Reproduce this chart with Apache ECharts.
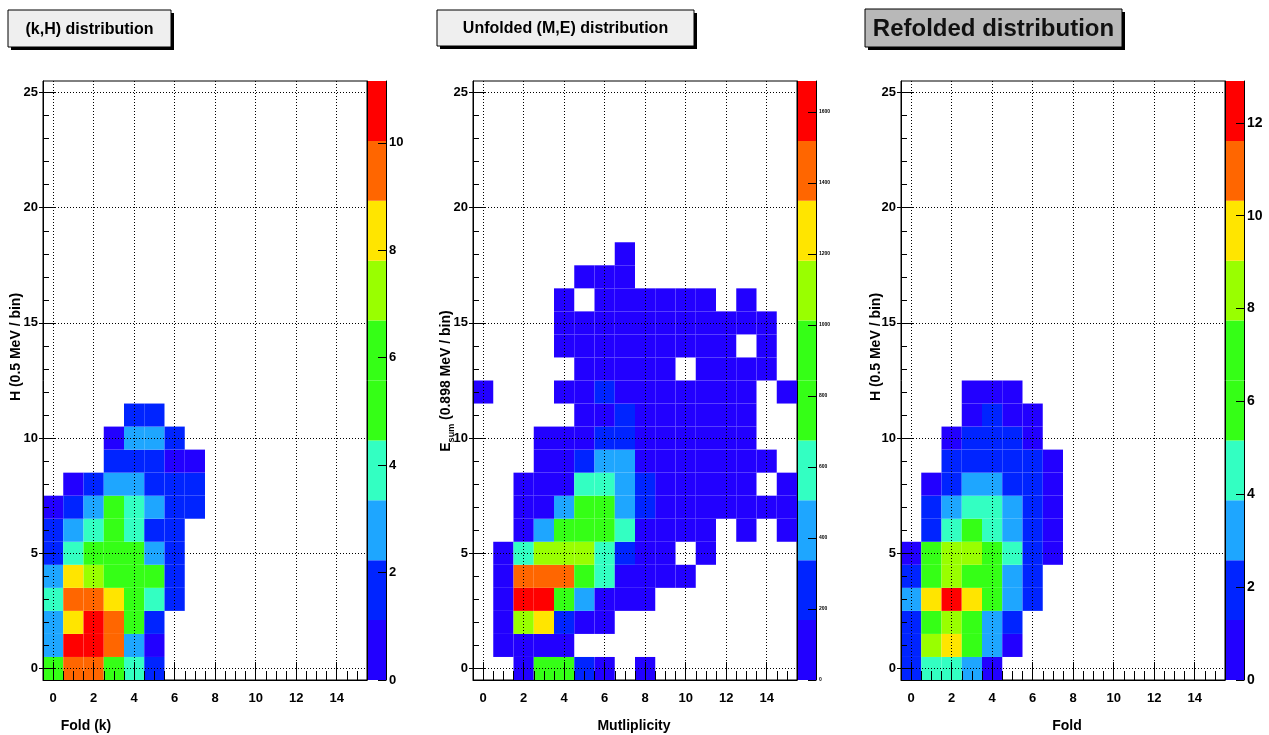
<!DOCTYPE html>
<html><head><meta charset="utf-8">
<script src="https://cdn.jsdelivr.net/npm/echarts@6/dist/echarts.min.js"></script>
<style>html,body{margin:0;padding:0;background:#fff}#c{width:1269px;height:735px}</style>
</head><body><div id="c"></div>
<script>
// ---------------- data ----------------
const xTickLabels = [0, 2, 4, 6, 8, 10, 12, 14];
const yTickLabels = [0, 5, 10, 15, 20, 25];
const xMinorTicks = [0.5,1,1.5,2.5,3,3.5,4.5,5,5.5,6.5,7,7.5,8.5,9,9.5,10.5,11,11.5,12.5,13,13.5,14.5,15];
const yMinorTicks = [1,2,3,4,6,7,8,9,11,12,13,14,16,17,18,19,21,22,23,24];

// ROOT palette bands (bottom -> top of the colour bar)
const paletteColors = ['#2200ff', '#0024ff', '#1ea6ff', '#33ffc2', '#35ff16', '#35ff16', '#99ff00', '#ffe500', '#ff6600', '#ff0000'];

// (k,H) distribution : rows = H bin 0.., columns = k 0..
const khRows = [
  [5.2, 9.3, 9.6, 5.0, 3.8, 1.6],
  [2.7, 10.4, 10.8, 9.4, 2.9, 0.9],
  [2.6, 8.3, 10.3, 9.1, 5.4, 1.5],
  [4.1, 9.7, 9.2, 8.5, 5.8, 3.7, 1.4],
  [2.9, 8.6, 7.1, 6.0, 6.3, 5.3, 1.2],
  [1.8, 4.2, 5.7, 6.1, 5.6, 2.6, 1.3],
  [1.6, 2.8, 3.9, 5.9, 3.6, 1.4, 1.2],
  [0.9, 1.9, 3.0, 5.1, 4.0, 2.5, 1.3, 1.2],
  [null, 0.8, 2.0, 3.1, 2.9, 1.4, 1.3, 1.2],
  [null, null, null, 1.5, 1.7, 1.4, 0.9, 0.8],
  [null, null, null, 0.9, 2.6, 2.4, 1.3],
  [null, null, null, null, 1.4, 1.3]
];
const khZmax = 11.15;
const khZTicks = [0, 2, 4, 6, 8, 10];

// Unfolded (M,E) distribution : rows = E bin 0.., columns = M 0..
const meRows = [
  [null, null, 90, 850, 880, 200, 110, null, 60],
  [null, 70, 120, 150, 100],
  [null, 90, 1100, 1280, 230, 130, 60],
  [null, 140, 1600, 1620, 830, 430, 150, 110, 50],
  [null, 150, 1440, 1460, 1420, 860, 600, 160, 120, 80, 40],
  [null, 160, 580, 1090, 1120, 1080, 620, 220, 140, 90, null, 50],
  [null, null, 130, 430, 820, 880, 850, 570, 150, 120, 100, 70, null, 60, null, 40],
  [null, null, 120, 150, 420, 900, 830, 410, 200, 130, 110, 90, 70, 60, 50, 40],
  [null, null, 110, 140, 160, 590, 610, 440, 190, 120, 100, 80, 70, 60, null, 40],
  [null, null, null, 130, 150, 240, 400, 390, 150, 110, 90, 80, 70, 60, 50],
  [null, null, null, 90, 120, 160, 210, 230, 150, 110, 90, 70, 60, 50],
  [null, null, null, null, null, 130, 160, 200, 140, 100, 80, 70, 60, 50],
  [40, null, null, null, 90, 120, 190, 150, 120, 100, 80, 70, 60, 50, null, 30],
  [null, null, null, null, null, 100, 110, 120, 100, 90, null, 70, 60, 50, 40],
  [null, null, null, null, 70, 90, 100, 110, 100, 80, 70, 60, 50, null, 30],
  [null, null, null, null, 60, 80, 90, 100, 90, 80, 70, 60, 50, 40, 30],
  [null, null, null, null, 50, null, 70, 80, 70, 60, 50, 40, null, 30],
  [null, null, null, null, null, 40, 50, 60],
  [null, null, null, null, null, null, null, 40]
];
const meZmax = 1687;
const meZTicks = [0, 200, 400, 600, 800, 1000, 1200, 1400, 1600];

// Refolded distribution : rows = H bin 0.., columns = fold 0..
const rfRows = [
  [1.8, 4.3, 4.6, 3.0, 1.0],
  [2.0, 8.2, 9.5, 6.2, 3.1, 1.1],
  [2.2, 7.0, 8.6, 6.6, 3.3, 1.6],
  [3.4, 9.9, 12.6, 9.6, 6.9, 3.2, 1.8],
  [2.1, 7.2, 8.3, 7.4, 6.8, 3.5, 1.9],
  [1.2, 6.6, 8.0, 7.9, 6.5, 4.4, 2.0, 1.1],
  [null, 2.4, 4.9, 5.9, 4.7, 3.4, 2.0, 1.1],
  [null, 2.0, 3.6, 4.4, 4.3, 3.2, 1.9, 1.0],
  [null, 1.1, 2.1, 3.1, 3.0, 2.2, 1.8, 1.0],
  [null, null, 1.8, 2.3, 2.4, 2.1, 1.7, 0.9],
  [null, null, 1.2, 1.9, 2.2, 1.9, 1.2],
  [null, null, null, 1.2, 1.6, 1.2, 1.0],
  [null, null, null, 0.8, 1.1, 0.9]
];
const rfZmax = 12.9;
const rfZTicks = [0, 2, 4, 6, 8, 10, 12];

// ---------------- chart ----------------
const FONT = '"Liberation Sans", Arial, Helvetica, sans-serif';

function toCells(rows) {
  const out = [];
  rows.forEach((r, j) => r.forEach((v, i) => { if (v != null) out.push([i, j, v]); }));
  return out;
}
function bands(zmax) {
  const bw = zmax / paletteColors.length;
  return paletteColors.map((c, k) => [k * bw, (k + 1) * bw, k]);
}
function cellRender(params, api) {
  const x = api.value(0), y = api.value(1);
  const p0 = api.coord([x - 0.5, y - 0.5]);
  const p1 = api.coord([x + 0.5, y + 0.5]);
  return { type: 'rect', shape: { x: p0[0], y: p1[1], width: p1[0] - p0[0], height: p0[1] - p1[1] },
           style: { fill: api.visual('color') } };
}
function barRender(params, api) {
  const p0 = api.coord([0, api.value(0)]);
  const p1 = api.coord([1, api.value(1)]);
  return { type: 'rect', shape: { x: p0[0], y: p1[1], width: p1[0] - p0[0], height: p0[1] - p1[1] },
           style: { fill: paletteColors[api.value(2)] } };
}

const panels = [
  { left: 43,  cbLeft: 367,  rows: khRows, zmax: khZmax, cbTicks: khZTicks, cbFont: 13 },
  { left: 473, cbLeft: 797,  rows: meRows, zmax: meZmax, cbTicks: meZTicks, cbFont: 5 },
  { left: 901, cbLeft: 1225, rows: rfRows, zmax: rfZmax, cbTicks: rfZTicks, cbFont: 14 }
];

const grid = [], xAxis = [], yAxis = [], series = [], visualMap = [];
const blk = { color: '#000', width: 1 };
const lbl = { color: '#000', fontSize: 13, fontWeight: 'bold', fontFamily: FONT };
const plain = v => String(v);

panels.forEach(p => {
  const g = grid.length;
  grid.push({ left: p.left, top: 81, width: 324, height: 599, show: true, borderColor: '#000', borderWidth: 1, backgroundColor: '#fff' });
  grid.push({ left: p.cbLeft, top: 81, width: 19, height: 599, show: false });

  const xi = xAxis.length;
  xAxis.push({ gridIndex: g, type: 'value', min: -0.5, max: 15.5, position: 'bottom', z: 5,
    axisLine: { show: true, onZero: false, lineStyle: blk },
    axisTick: { show: true, inside: true, length: 18, customValues: xTickLabels, lineStyle: blk },
    axisLabel: Object.assign({ show: true, customValues: xTickLabels, margin: 12, formatter: plain }, lbl),
    splitLine: { show: true, lineStyle: { color: '#000', width: 1, type: [1, 2] } } });
  xAxis.push({ gridIndex: g, type: 'value', min: -0.5, max: 15.5, position: 'bottom', z: 5,
    axisLine: { show: false, onZero: false },
    axisTick: { show: true, inside: true, length: 9, customValues: xMinorTicks, lineStyle: blk },
    axisLabel: { show: false }, splitLine: { show: false } });
  xAxis.push({ gridIndex: g + 1, type: 'value', min: 0, max: 1, show: false, axisLine: { onZero: false } });

  const yi = yAxis.length;
  yAxis.push({ gridIndex: g, type: 'value', min: -0.5, max: 25.5, position: 'left', z: 5,
    axisLine: { show: true, onZero: false, lineStyle: blk },
    axisTick: { show: true, inside: true, length: 12, customValues: yTickLabels, lineStyle: blk },
    axisLabel: Object.assign({ show: true, customValues: yTickLabels, margin: 5, formatter: plain }, lbl),
    splitLine: { show: true, lineStyle: { color: '#000', width: 1, type: [1, 2] } } });
  yAxis.push({ gridIndex: g, type: 'value', min: -0.5, max: 25.5, position: 'left', z: 5,
    axisLine: { show: false, onZero: false },
    axisTick: { show: true, inside: true, length: 6, customValues: yMinorTicks, lineStyle: blk },
    axisLabel: { show: false }, splitLine: { show: false } });
  yAxis.push({ gridIndex: g, type: 'value', min: -0.5, max: 25.5, position: 'left', z: 5,
    axisLine: { show: false, onZero: false },
    axisTick: { show: true, inside: false, length: 4, customValues: yTickLabels, lineStyle: blk },
    axisLabel: { show: false }, splitLine: { show: false } });
  yAxis.push({ gridIndex: g, type: 'value', min: -0.5, max: 25.5, position: 'right', z: 5,
    axisLine: { show: true, onZero: false, lineStyle: blk },
    axisTick: { show: false }, axisLabel: { show: false }, splitLine: { show: false } });
  yAxis.push({ gridIndex: g + 1, type: 'value', min: 0, max: p.zmax, position: 'right', z: 5,
    axisLine: { show: true, onZero: false, lineStyle: blk },
    axisTick: { show: true, inside: true, length: 8, customValues: p.cbTicks, lineStyle: blk },
    axisLabel: { show: true, customValues: p.cbTicks, margin: 3, formatter: plain, color: '#000', fontSize: p.cbFont, fontWeight: 'bold', fontFamily: FONT },
    splitLine: { show: false } });

  const si = series.length;
  series.push({ type: 'custom', xAxisIndex: xi, yAxisIndex: yi, z: 2, renderItem: cellRender,
    data: toCells(p.rows), silent: true, animation: false });
  series.push({ type: 'custom', xAxisIndex: xi + 2, yAxisIndex: yi + 4, z: 2, renderItem: barRender,
    data: bands(p.zmax), silent: true, animation: false });

  const bw = p.zmax / paletteColors.length;
  visualMap.push({ type: 'piecewise', show: false, seriesIndex: si, dimension: 2,
    pieces: paletteColors.map((c, k) => (k === paletteColors.length - 1)
      ? { gte: k * bw, lte: p.zmax * 2, color: c }
      : { gte: k * bw, lt: (k + 1) * bw, color: c }) });
});

function titleBox(x, y, w, h, fill, text, font, color) {
  return [
    { type: 'rect', shape: { x: x + 3, y: y + 3, width: w, height: h }, style: { fill: '#000' }, z: 10 },
    { type: 'rect', shape: { x: x, y: y, width: w, height: h }, style: { fill: fill, stroke: '#000', lineWidth: 1 }, z: 11 },
    { type: 'text', x: x + w / 2, y: y + h / 2 + 1, z: 12,
      style: { text: text, font: font, fill: color, align: 'center', verticalAlign: 'middle' } }
  ];
}
function txt(x, y, text, rot) {
  return { type: 'text', x: x, y: y, rotation: rot || 0, z: 12,
    style: { text: text, font: 'bold 14px ' + FONT, fill: '#000', align: 'center', verticalAlign: 'middle' } };
}

const graphic = [].concat(
  titleBox(8, 10, 163, 37, '#efefef', '(k,H) distribution', 'bold 16px ' + FONT, '#000'),
  titleBox(437, 10, 257, 36, '#efefef', 'Unfolded (M,E) distribution', 'bold 16px ' + FONT, '#000'),
  titleBox(865, 9, 257, 38, '#b8b8b8', 'Refolded distribution', 'bold 24px ' + FONT, '#111'),
  [
    txt(86, 726, 'Fold (k)'),
    txt(634, 726, 'Mutliplicity'),
    txt(1067, 726, 'Fold'),
    txt(16, 347, 'H (0.5 MeV / bin)', Math.PI / 2),
    txt(876, 347, 'H (0.5 MeV / bin)', Math.PI / 2),
    { type: 'text', x: 446, y: 381, rotation: Math.PI / 2, z: 12,
      style: { text: '{e|E}{s|sum}{e| (0.898 MeV / bin)}', align: 'center', verticalAlign: 'middle',
        rich: {
          e: { fontSize: 14, fontWeight: 'bold', fontFamily: FONT, fill: '#000', color: '#000', lineHeight: 20 },
          s: { fontSize: 9, fontWeight: 'bold', fontFamily: FONT, fill: '#000', color: '#000', lineHeight: 9, verticalAlign: 'bottom' }
        } } }
  ]
);

const chart = echarts.init(document.getElementById('c'), null, { renderer: 'canvas', width: 1269, height: 735 });
chart.setOption({
  animation: false,
  backgroundColor: '#fff',
  grid, xAxis, yAxis, series, visualMap, graphic
});
</script></body></html>
